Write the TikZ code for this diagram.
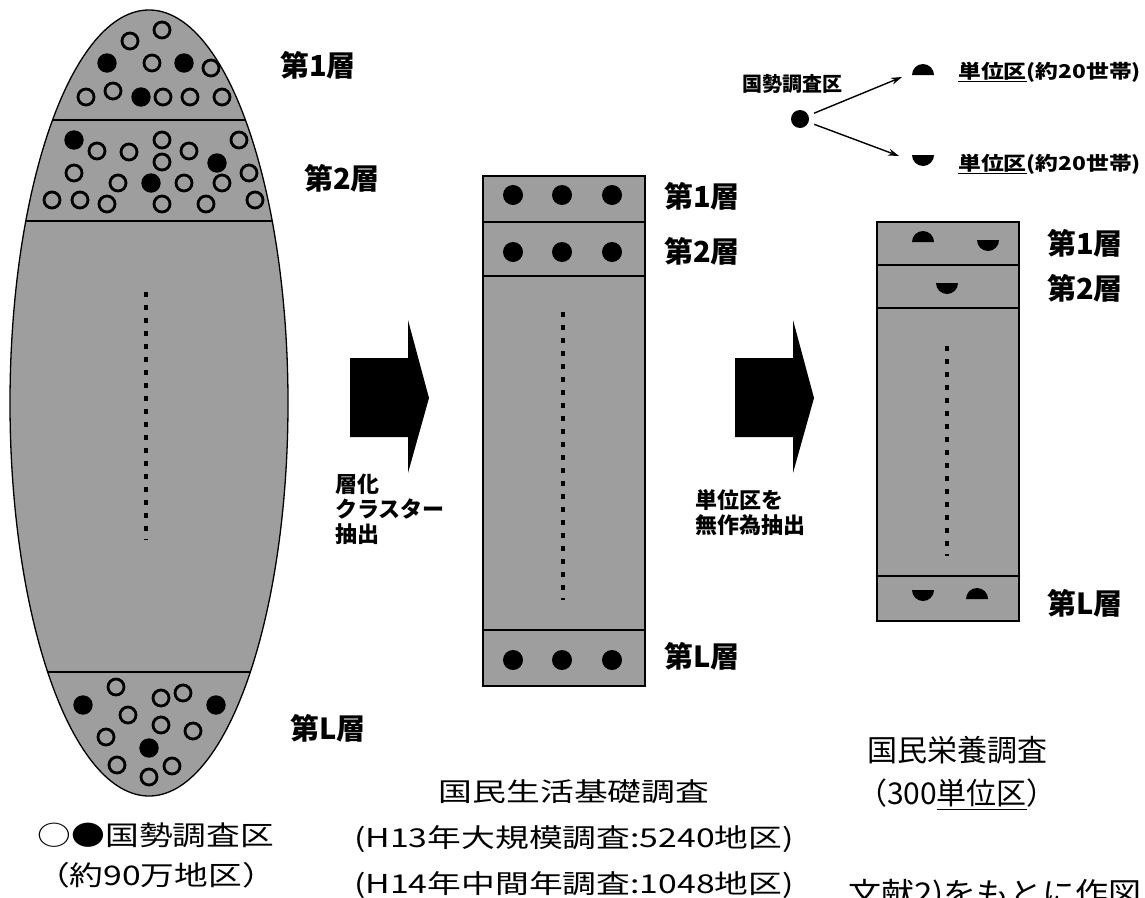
\documentclass[tikz,border=0pt]{standalone}
\usepackage{fontspec}
\newfontfamily\jp{Noto Sans CJK JP}
\newfontfamily\jpwide[FakeStretch=1.25]{Noto Sans CJK JP}
\newfontfamily\jpmid[FakeStretch=1.3]{Noto Sans CJK JP}
\newfontfamily\jpleg[FakeStretch=1.2]{Noto Sans CJK JP}
\newfontfamily\jpsrc[FakeStretch=1.1]{Noto Sans CJK JP}
\usetikzlibrary{arrows.meta}
\definecolor{stip}{RGB}{158,158,158}
\begin{document}
\begin{tikzpicture}[x=1pt,y=-1pt,
  lab/.style={font=\jp\bfseries\fontsize{29}{32}\selectfont, anchor=west, inner sep=0pt},
  note/.style={font=\jp\bfseries\fontsize{22}{25}\selectfont, align=left, anchor=north west, inner sep=0pt},
  leg/.style={font=\jpleg\bfseries\fontsize{19}{22}\selectfont, anchor=west, inner sep=0pt},
  opc/.style={draw=black, line width=2.8pt},
  blk/.style={fill=black},
  box/.style={draw=black, line width=1.3pt, fill=stip},
  sep/.style={draw=black, line width=1.1pt},
  dots/.style={draw=black, line width=4.5pt, dash pattern=on 4.5pt off 8.5pt},
  bigarrow/.style={fill=black},
  thin/.style={-{Stealth[length=11pt,width=7pt]}, line width=1.4pt}
]
\useasboundingbox (0,0) rectangle (1145,897);
\fill[white] (0,0) rectangle (1145,897);

% ---------- ellipse ----------
\draw[box] (149,403) ellipse [x radius=139, y radius=393];
\begin{scope}
  \clip (149,403) ellipse [x radius=139, y radius=393];
  \draw[sep] (0,120) -- (300,120);
  \draw[sep] (0,221) -- (300,221);
  \draw[sep] (0,672) -- (300,672);
\end{scope}
\draw[dots] (146,292) -- (146,540);
% open circles
\foreach \p in {(162,30),(130,41),(152,63),(211,68),(86,97),(113,91),(163,97),(190,97),(222,97),
  (97,151),(129,152),(162,140),(162,162),(189,151),(239,140),(74,173),(249,173),(118,183),(184,183),(222,183),(52,200),(80,200),(107,204),(162,204),(206,204),(255,200),
  (116,687),(183,693),(161,698),(128,715),(161,725),(193,731),(106,737),(117,765),(172,766),(149,777)}
  \draw[opc] \p circle[radius=8];
% filled circles
\foreach \p in {(107,63),(184,63),(141,97),(74,140),(217,163),(151,183),(83,705),(216,705),(149,748)}
  \fill[blk] \p circle[radius=9.7];

\node[lab] (e1) at (280,65) {第1層};
\node[lab] (e2) at (304,178) {第2層};
\node[lab] (eL) at (290,728) {第L層};

\node[font=\jpwide\fontsize{27}{40}\selectfont, align=center, inner sep=0pt] (t1) at (156,855) {○●国勢調査区\\（約90万地区）};

% ---------- arrow 1 ----------
\fill[bigarrow] (350,358) -- (408,358) -- (408,320) -- (429,398) -- (408,473) -- (408,437) -- (350,437) -- cycle;
\node[note] (n1) at (335,474) {層化\\クラスター\\抽出};

% ---------- middle box ----------
\draw[box] (483,176) rectangle (645,686);
\draw[sep] (483,222) -- (645,222);
\draw[sep] (483,276) -- (645,276);
\draw[sep] (483,630) -- (645,630);
\draw[dots] (563,312) -- (563,600);
\foreach \x in {513,562,612}{
  \fill[blk] (\x,195) circle[radius=10];
  \fill[blk] (\x,252) circle[radius=10];
  \fill[blk] (\x,660) circle[radius=10];
}
\node[lab] (m1) at (664,196) {第1層};
\node[lab] (m2) at (664,251) {第2層};
\node[lab] (mL) at (664,656) {第L層};

\node[font=\jpmid\fontsize{26}{46}\selectfont, align=center, inner sep=0pt] (t2) at (574,839) {国民生活基礎調査\\(H13年大規模調査:5240地区)\\(H14年中間年調査:1048地区)};

% ---------- arrow 2 ----------
\fill[bigarrow] (735,358) -- (793,358) -- (793,320) -- (814,398) -- (793,473) -- (793,437) -- (735,437) -- cycle;
\node[note] (n2) at (695,489) {単位区を\\無作為抽出};

% ---------- right box ----------
\draw[box] (877,222) rectangle (1019,621);
\draw[sep] (877,265) -- (1019,265);
\draw[sep] (877,308) -- (1019,308);
\draw[sep] (877,576) -- (1019,576);
\draw[dots] (947,346) -- (947,556);
% domes (flat side down) and bowls (flat side up)
\fill[blk] (912,242) arc[start angle=180, end angle=360, radius=11] -- cycle;
\fill[blk] (977,240) arc[start angle=180, end angle=0, radius=11] -- cycle;
\fill[blk] (936,283) arc[start angle=180, end angle=0, radius=11] -- cycle;
\fill[blk] (912,590) arc[start angle=180, end angle=0, radius=11] -- cycle;
\fill[blk] (966,599) arc[start angle=180, end angle=360, radius=11] -- cycle;
\node[lab] (r1) at (1047,243) {第1層};
\node[lab] (r2) at (1047,288) {第2層};
\node[lab] (rL) at (1047,603) {第L層};

\node[font=\jp\fontsize{30}{43}\selectfont, align=center, inner sep=0pt] (t3) at (957,773) {国民栄養調査\\（300\underline{単位区}）};

% ---------- legend ----------
\node[font=\jp\bfseries\fontsize{20}{22}\selectfont, inner sep=0pt] (lg) at (792,84) {国勢調査区};
\node[circle, fill=black, minimum size=18pt, inner sep=0pt] (cd) at (800,119) {};
\coordinate (u1) at (902,77);
\coordinate (u2) at (899,156);
\draw[thin, shorten <=6pt] (cd) -- (u1);
\draw[thin, shorten <=6pt] (cd) -- (u2);
\fill[blk] (912,75) arc[start angle=180, end angle=360, radius=11] -- cycle;
\fill[blk] (912,155) arc[start angle=180, end angle=0, radius=11] -- cycle;
\node[leg] (l1) at (958,72) {\underline{単位区}(約20世帯)};
\node[leg] (l2) at (958,164) {\underline{単位区}(約20世帯)};

% ---------- cut-off source note ----------
\node[font=\jpsrc\fontsize{30}{34}\selectfont, anchor=north west, inner sep=0pt] (src) at (848,879) {文献2)をもとに作図};
\end{tikzpicture}
\end{document}
